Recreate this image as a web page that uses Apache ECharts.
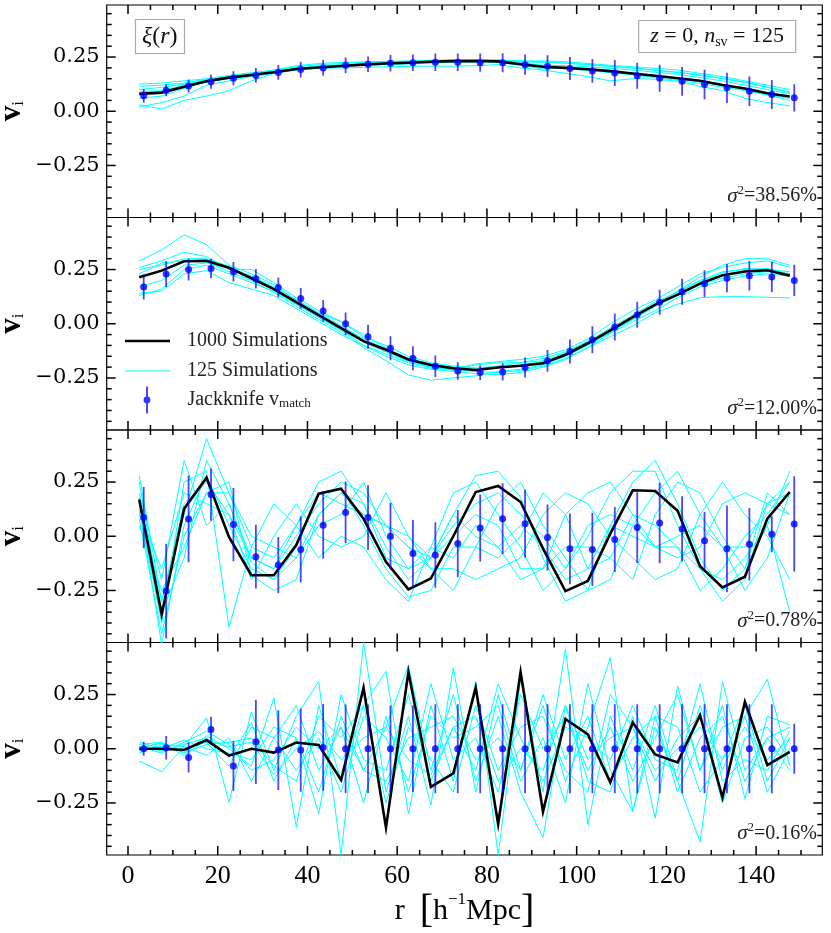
<!DOCTYPE html>
<html><head><meta charset="utf-8">
<script src="https://cdn.jsdelivr.net/npm/echarts@6/dist/echarts.min.js"></script>
<style>html,body{margin:0;padding:0;background:#fff}#c{width:831px;height:933px}</style>
</head><body><div id="c"></div>
<script>
// ---------------- data ----------------
const rLine = [2.5,7.5,12.5,17.5,22.5,27.5,32.5,37.5,42.5,47.5,52.5,57.5,62.5,67.5,72.5,77.5,82.5,87.5,92.5,97.5,102.5,107.5,112.5,117.5,122.5,127.5,132.5,137.5,142.5,147.5];
const rJack = [3.5,8.5,13.5,18.5,23.5,28.5,33.5,38.5,43.5,48.5,53.5,58.5,63.5,68.5,73.5,78.5,83.5,88.5,93.5,98.5,103.5,108.5,113.5,118.5,123.5,128.5,133.5,138.5,143.5,148.5];
const xTickLabels = [0,20,40,60,80,100,120,140];
const xMinorTicks = [5,10,15,25,30,35,45,50,55,65,70,75,85,90,95,105,110,115,125,130,135,145,150];
const yTickLabels = [-0.25,0,0.25];
const yMinorTicks = [-0.45,-0.4,-0.35,-0.3,-0.2,-0.15,-0.1,-0.05,0.05,0.1,0.15,0.2,0.3,0.35,0.4,0.45];
const sigmaLabels = ['38.56%','12.00%','0.78%','0.16%'];

// panel 1 (eigenvector 1)
const black1 = [0.080,0.086,0.113,0.138,0.155,0.167,0.180,0.195,0.202,0.209,0.215,0.220,0.224,0.228,0.231,0.232,0.230,0.217,0.205,0.200,0.194,0.185,0.174,0.164,0.152,0.141,0.121,0.105,0.083,0.068];
const jack1 = [0.071,0.097,0.117,0.136,0.152,0.165,0.179,0.192,0.200,0.212,0.217,0.221,0.224,0.226,0.226,0.224,0.224,0.215,0.208,0.197,0.186,0.176,0.164,0.152,0.138,0.123,0.108,0.092,0.077,0.062];
const err1 = [0.032,0.028,0.030,0.032,0.032,0.034,0.034,0.036,0.036,0.036,0.036,0.038,0.038,0.040,0.040,0.042,0.044,0.047,0.050,0.053,0.055,0.060,0.060,0.062,0.066,0.068,0.070,0.068,0.067,0.063];
const cyan1 = [
 [0.030,0.010,0.050,0.070,0.095,0.140,0.175,0.195,0.205,0.210,0.212,0.215,0.218,0.222,0.225,0.228,0.226,0.212,0.195,0.200,0.195,0.185,0.175,0.162,0.150,0.135,0.120,0.100,0.075,0.050],
 [0.020,0.040,0.070,0.120,0.140,0.160,0.175,0.190,0.198,0.200,0.202,0.205,0.207,0.208,0.208,0.210,0.215,0.200,0.190,0.175,0.160,0.140,0.150,0.148,0.138,0.115,0.095,0.060,0.040,0.025],
 [0.125,0.130,0.140,0.150,0.165,0.178,0.190,0.210,0.220,0.225,0.228,0.230,0.232,0.235,0.238,0.237,0.235,0.232,0.232,0.228,0.220,0.212,0.205,0.198,0.190,0.175,0.160,0.140,0.120,0.100],
 [0.115,0.120,0.130,0.148,0.160,0.175,0.188,0.205,0.215,0.220,0.225,0.228,0.230,0.232,0.233,0.233,0.232,0.228,0.225,0.222,0.215,0.208,0.200,0.190,0.180,0.168,0.152,0.135,0.112,0.090],
 [0.100,0.110,0.125,0.145,0.158,0.170,0.183,0.198,0.205,0.212,0.218,0.222,0.226,0.230,0.232,0.235,0.235,0.225,0.212,0.210,0.205,0.198,0.190,0.180,0.170,0.155,0.140,0.120,0.100,0.080],
 [0.060,0.070,0.105,0.135,0.150,0.163,0.176,0.190,0.200,0.207,0.213,0.218,0.222,0.226,0.228,0.228,0.226,0.218,0.208,0.198,0.188,0.178,0.168,0.155,0.142,0.128,0.112,0.095,0.075,0.060],
 [0.090,0.095,0.120,0.142,0.156,0.168,0.182,0.200,0.210,0.215,0.220,0.224,0.228,0.232,0.236,0.238,0.236,0.232,0.228,0.222,0.215,0.206,0.198,0.188,0.178,0.165,0.150,0.132,0.110,0.085]
];

// panel 2
const black2 = [0.214,0.245,0.288,0.290,0.258,0.210,0.160,0.100,0.040,-0.020,-0.080,-0.120,-0.165,-0.190,-0.205,-0.213,-0.202,-0.194,-0.182,-0.143,-0.090,-0.031,0.031,0.088,0.134,0.185,0.224,0.241,0.247,0.222];
const jack2 = [0.170,0.229,0.250,0.255,0.240,0.207,0.167,0.117,0.059,0.000,-0.060,-0.113,-0.159,-0.196,-0.218,-0.225,-0.222,-0.202,-0.171,-0.128,-0.074,-0.015,0.042,0.099,0.148,0.185,0.210,0.221,0.216,0.200];
const err2 = [0.058,0.060,0.050,0.045,0.045,0.045,0.045,0.048,0.050,0.052,0.055,0.055,0.055,0.050,0.040,0.034,0.040,0.046,0.050,0.055,0.062,0.062,0.060,0.058,0.060,0.062,0.065,0.068,0.070,0.072];
const cyan2 = [
 [0.290,0.340,0.410,0.365,0.270,0.230,0.180,0.110,0.050,-0.010,-0.070,-0.115,-0.160,-0.185,-0.200,-0.205,-0.195,-0.180,-0.160,-0.130,-0.080,-0.030,0.020,0.080,0.150,0.215,0.270,0.300,0.300,0.270],
 [0.260,0.290,0.330,0.310,0.250,0.250,0.190,0.120,0.060,0.010,-0.050,-0.110,-0.170,-0.200,-0.210,-0.185,-0.175,-0.165,-0.150,-0.120,-0.070,0.000,0.060,0.110,0.170,0.230,0.260,0.280,0.290,0.260],
 [0.230,0.280,0.290,0.285,0.240,0.200,0.145,0.080,0.020,-0.040,-0.110,-0.170,-0.236,-0.260,-0.250,-0.240,-0.220,-0.210,-0.190,-0.150,-0.100,-0.040,0.020,0.080,0.130,0.180,0.210,0.230,0.240,0.230],
 [0.140,0.150,0.230,0.245,0.190,0.160,0.130,0.070,0.010,-0.050,-0.100,-0.140,-0.180,-0.200,-0.215,-0.220,-0.225,-0.215,-0.195,-0.160,-0.110,-0.060,-0.010,0.050,0.090,0.120,0.125,0.125,0.122,0.119],
 [0.170,0.200,0.270,0.280,0.255,0.220,0.170,0.110,0.050,0.010,-0.060,-0.100,-0.150,-0.180,-0.195,-0.205,-0.200,-0.190,-0.175,-0.150,-0.095,-0.040,0.020,0.090,0.150,0.200,0.240,0.250,0.255,0.230],
 [0.130,0.160,0.250,0.270,0.230,0.190,0.150,0.090,0.030,-0.030,-0.100,-0.150,-0.190,-0.210,-0.220,-0.230,-0.235,-0.225,-0.200,-0.165,-0.110,-0.045,0.010,0.060,0.120,0.170,0.200,0.220,0.230,0.220],
 [0.250,0.270,0.300,0.300,0.265,0.215,0.165,0.090,0.030,-0.030,-0.085,-0.130,-0.175,-0.205,-0.210,-0.190,-0.180,-0.180,-0.170,-0.135,-0.085,-0.020,0.040,0.100,0.145,0.195,0.235,0.255,0.250,0.240]
];

// panel 3
const black3 = [0.169,-0.360,0.127,0.270,-0.003,-0.180,-0.180,-0.041,0.196,0.219,0.081,-0.118,-0.245,-0.195,0.000,0.204,0.232,0.158,-0.057,-0.253,-0.206,0.012,0.212,0.209,0.117,-0.138,-0.236,-0.187,0.081,0.204];
const jack3 = [0.086,-0.253,0.080,0.192,0.054,-0.094,-0.133,-0.061,0.051,0.110,0.086,0.000,-0.080,-0.087,-0.034,0.038,0.081,0.058,-0.006,-0.058,-0.061,-0.015,0.040,0.061,0.034,-0.021,-0.058,-0.037,0.009,0.057];
const err3 = [0.141,0.218,0.200,0.120,0.169,0.147,0.130,0.152,0.155,0.142,0.149,0.153,0.155,0.151,0.155,0.155,0.163,0.157,0.152,0.163,0.169,0.150,0.163,0.186,0.151,0.133,0.200,0.167,0.083,0.220];
const cyan3 = [
 [0.28,-0.30,0.10,0.45,0.20,-0.05,-0.10,0.05,0.25,0.30,0.15,-0.05,-0.20,-0.10,0.10,0.28,0.30,0.18,-0.10,-0.30,-0.25,0.05,0.25,0.35,0.15,-0.10,-0.25,-0.15,0.05,0.30],
 [0.12,-0.40,0.25,0.30,-0.42,-0.05,0.15,0.05,-0.10,0.00,-0.05,-0.20,-0.30,-0.05,0.20,0.25,0.10,-0.05,-0.25,-0.15,0.00,0.20,0.30,0.30,0.05,-0.15,-0.30,-0.20,0.15,0.10],
 [0.20,-0.20,0.35,0.05,0.15,-0.10,-0.15,0.00,0.15,0.25,0.20,0.05,-0.05,-0.15,-0.25,-0.05,0.15,0.25,0.05,-0.10,-0.25,-0.20,0.05,0.20,0.30,0.10,-0.05,-0.25,-0.10,0.20],
 [0.05,-0.25,-0.05,0.20,0.20,0.00,-0.05,-0.10,0.10,0.20,0.10,0.05,0.00,-0.10,0.05,0.15,0.20,0.10,0.00,-0.15,0.05,0.10,0.05,-0.05,-0.10,-0.05,0.15,0.20,0.15,0.20],
 [0.15,-0.50,0.05,0.28,0.05,-0.15,-0.20,-0.05,0.20,0.22,0.05,-0.15,-0.28,-0.25,-0.05,-0.05,-0.10,0.00,0.20,0.10,-0.15,-0.10,0.10,0.05,-0.05,-0.25,-0.15,0.00,0.10,0.25],
 [0.10,-0.15,0.20,0.15,0.10,-0.20,0.00,0.15,0.00,-0.05,0.00,0.20,0.00,-0.15,-0.15,-0.20,-0.15,-0.10,0.10,0.20,0.15,0.00,-0.10,-0.20,-0.15,0.10,0.25,0.10,0.00,-0.20],
 [0.25,-0.35,-0.10,0.35,0.15,-0.12,-0.20,-0.10,0.05,0.10,0.25,0.00,-0.15,-0.10,0.00,0.10,0.05,-0.15,-0.15,0.10,0.20,0.25,0.10,-0.05,-0.05,-0.15,-0.20,-0.10,0.05,-0.35],
 [0.18,-0.30,0.15,0.25,0.10,-0.10,-0.15,0.05,0.20,0.15,0.10,0.05,-0.05,-0.10,0.10,0.00,-0.05,0.05,-0.05,-0.20,-0.15,0.05,0.00,-0.05,0.00,0.05,-0.05,-0.05,0.15,0.25],
 [0.08,-0.45,0.00,0.20,0.25,-0.18,-0.25,-0.20,0.10,0.20,0.15,-0.10,-0.15,-0.05,-0.10,0.05,-0.05,-0.20,-0.15,-0.05,-0.05,-0.10,-0.20,0.10,0.25,0.20,0.00,-0.15,0.20,0.10]
];

// panel 4
const black4 = [0.000,0.000,-0.006,0.040,-0.032,0.000,-0.018,0.029,0.017,-0.144,0.281,-0.364,0.354,-0.176,-0.114,0.281,-0.347,0.354,-0.290,0.137,0.066,-0.155,0.121,-0.026,-0.063,0.155,-0.225,0.216,-0.075,-0.014];
const jack4 = [0.000,0.005,-0.040,0.089,-0.080,0.032,-0.006,-0.006,0.006,0.000,0.000,0.000,0.000,0.000,0.000,0.000,0.000,0.000,0.000,0.000,0.000,0.000,0.000,0.000,0.000,0.000,0.000,0.000,0.000,0.000];
const err4 = [0.032,0.054,0.069,0.059,0.115,0.194,0.184,0.192,0.200,0.204,0.204,0.200,0.200,0.205,0.205,0.205,0.205,0.205,0.205,0.205,0.205,0.205,0.205,0.205,0.205,0.205,0.205,0.205,0.205,0.115];
const cyan4 = [
 [-0.057,-0.106,0.010,0.143,-0.247,0.170,-0.100,0.150,0.310,-0.490,0.490,-0.200,0.150,-0.260,0.373,-0.200,0.250,-0.100,0.200,-0.150,0.100,0.420,-0.290,0.100,-0.150,0.200,-0.100,0.150,0.320,-0.080],
 [0.020,0.030,-0.020,0.060,0.000,-0.080,0.235,-0.360,0.200,-0.150,0.200,0.357,-0.300,0.200,-0.150,0.310,-0.490,0.320,-0.200,0.460,-0.350,0.150,-0.100,0.200,-0.150,-0.430,0.310,-0.100,0.050,0.100],
 [0.010,-0.010,0.020,0.050,-0.040,0.120,-0.150,0.050,-0.200,0.150,-0.100,0.100,0.385,-0.100,0.250,-0.150,0.150,-0.200,-0.410,0.200,-0.150,-0.200,0.150,-0.320,0.290,-0.100,0.200,-0.230,0.150,0.110],
 [-0.020,0.020,0.010,-0.030,0.050,-0.150,0.050,0.200,-0.100,0.100,-0.250,0.150,-0.200,0.150,0.050,0.100,0.200,-0.150,0.050,-0.250,0.300,-0.100,-0.290,0.150,0.100,-0.200,-0.050,0.200,-0.150,0.050],
 [0.000,0.030,-0.020,0.020,0.030,0.050,-0.080,-0.150,0.150,0.050,0.200,-0.250,0.100,-0.050,-0.200,0.200,-0.100,0.100,0.150,-0.100,-0.200,0.250,0.100,-0.150,0.050,0.150,-0.250,0.050,0.100,-0.050],
 [0.030,0.000,0.040,0.000,-0.020,-0.050,0.100,0.050,-0.300,0.250,-0.050,-0.100,0.250,-0.150,0.100,-0.100,0.300,0.050,-0.150,0.100,0.050,-0.050,0.200,-0.050,-0.100,0.300,-0.150,-0.050,-0.100,0.080],
 [-0.010,0.010,0.000,0.030,-0.080,0.100,0.050,-0.100,0.050,-0.200,0.150,0.050,-0.150,0.300,-0.050,0.050,-0.200,0.250,0.000,0.150,-0.100,0.100,-0.150,0.050,0.250,-0.100,0.100,0.150,-0.200,0.000],
 [0.010,-0.020,0.030,0.080,0.020,-0.100,-0.050,0.100,0.000,0.100,-0.100,-0.150,0.050,0.100,0.150,-0.050,0.050,-0.100,0.250,-0.050,0.150,-0.150,0.050,0.150,-0.200,0.050,0.150,-0.150,0.050,-0.100],
 [0.005,0.025,-0.030,0.040,0.010,0.030,-0.120,0.000,0.080,-0.050,0.050,0.100,-0.050,-0.120,0.100,0.150,-0.150,0.000,-0.100,0.200,-0.050,0.050,0.100,-0.100,0.000,0.100,-0.050,0.100,-0.050,0.050]
];

// ---------------- layout / styles ----------------
const panels = [
  {black: black1, jack: jack1, err: err1, cyan: cyan1},
  {black: black2, jack: jack2, err: err2, cyan: cyan2},
  {black: black3, jack: jack3, err: err3, cyan: cyan3},
  {black: black4, jack: jack4, err: err4, cyan: cyan4}
];
const GRID_TOP = [5, 217.5, 430, 642.5];
const GRID_H = 212.5;
const LEFT = 106.7, RIGHT = 8.7;
const XMIN = -4.75, XMAX = 154.75, YMIN = -0.49, YMAX = 0.49;
const TF = 'Liberation Serif';
const LF = 'DejaVu Serif';
const CYAN = '#00ffff', BLUE = '#0000ff';
const MAJOR_LEN = 9, MINOR_LEN = 5;

// tick table built from the tick arrays: [x, y, kind(0 = x tick, 1 = y tick), length]
const tickTable = [];
xTickLabels.forEach(v => tickTable.push([v, 0, 0, MAJOR_LEN]));
xMinorTicks.forEach(v => tickTable.push([v, 0, 0, MINOR_LEN]));
yTickLabels.forEach(v => tickTable.push([0, v, 1, MAJOR_LEN]));
yMinorTicks.forEach(v => tickTable.push([0, v, 1, MINOR_LEN]));

const grids = [], xAxes = [], yAxes = [], series = [], titles = [];

function fmtY(v) {
  if (Math.abs(v) < 1e-9) return '0.00';
  return (v < 0 ? '\u2212' : '') + Math.abs(v).toFixed(2);
}

// inward ticks on all four sides of a panel, placed through the panel's own scales
function renderTicks(params, api) {
  const cs = params.coordSys;
  const kind = api.value(2), len = api.value(3);
  const pt = api.coord([api.value(0), api.value(1)]);
  const st = {stroke: '#000', lineWidth: 1.5, fill: null};
  if (kind === 0) {
    const x = pt[0], yb = cs.y + cs.height, yt = cs.y;
    return {type: 'group', children: [
      {type: 'line', shape: {x1: x, y1: yb, x2: x, y2: yb - len}, style: st},
      {type: 'line', shape: {x1: x, y1: yt, x2: x, y2: yt + len}, style: st}
    ]};
  }
  const y = pt[1], xl = cs.x, xr = cs.x + cs.width;
  return {type: 'group', children: [
    {type: 'line', shape: {x1: xl, y1: y, x2: xl + len, y2: y}, style: st},
    {type: 'line', shape: {x1: xr, y1: y, x2: xr - len, y2: y}, style: st}
  ]};
}

panels.forEach((P, p) => {
  grids.push({left: LEFT, right: RIGHT, top: GRID_TOP[p], height: GRID_H,
    show: true, borderColor: '#000', borderWidth: 1.2, backgroundColor: 'rgba(0,0,0,0)',
    containLabel: false, outerBoundsMode: 'none'});
  const xa = {
    type: 'value', gridIndex: p, position: 'bottom', min: XMIN, max: XMAX,
    axisLine: {show: false, onZero: false}, splitLine: {show: false}, axisTick: {show: false},
    axisLabel: p === 3 ? {show: true, customValues: xTickLabels, margin: 8, color: '#000',
      fontFamily: TF, fontSize: 26, formatter: v => String(Math.round(v))} : {show: false}
  };
  if (p === 3) {
    xa.name = 'r  {b|[}h{sup|\u22121}Mpc{b|]}';
    xa.nameLocation = 'middle';
    xa.nameGap = 36;
    xa.nameMoveOverlap = false;
    xa.nameTextStyle = {fontFamily: TF, fontSize: 30, color: '#000', lineHeight: 40,
      rich: {b: {fontFamily: TF, fontSize: 40, lineHeight: 40, color: '#000'},
             sup: {fontFamily: TF, fontSize: 17, lineHeight: 30, verticalAlign: 'top', color: '#000'}}};
  }
  xAxes.push(xa);
  yAxes.push({
    type: 'value', gridIndex: p, position: 'left', min: YMIN, max: YMAX,
    axisLine: {show: false, onZero: false}, splitLine: {show: false}, axisTick: {show: false},
    axisLabel: {show: true, customValues: yTickLabels, margin: 7, color: '#000', fontFamily: LF, fontSize: 21, formatter: fmtY},
    name: '{b|v}{s|i}', nameLocation: 'middle', nameGap: 80, nameMoveOverlap: false,
    nameTextStyle: {color: '#000', rich: {
      b: {fontFamily: TF, fontWeight: 'bold', fontSize: 31, lineHeight: 30, color: '#000'},
      s: {fontFamily: TF, fontSize: 17, lineHeight: 22, verticalAlign: 'bottom', color: '#000'}}}
  });

  P.cyan.forEach((arr, k) => {
    series.push({
      type: 'line', name: (p === 1 && k === 0) ? '125 Simulations' : ('cyan_' + p + '_' + k),
      xAxisIndex: p, yAxisIndex: p, data: rLine.map((x, i) => [x, arr[i]]),
      symbol: 'none', color: CYAN, lineStyle: {color: CYAN, width: 1}, silent: true, z: 2, clip: true
    });
  });
  series.push({
    type: 'line', name: p === 1 ? '1000 Simulations' : ('black_' + p),
    xAxisIndex: p, yAxisIndex: p, data: rLine.map((x, i) => [x, P.black[i]]),
    symbol: 'none', color: '#000', lineStyle: {color: '#000', width: 2.6, join: 'miter'}, silent: true, z: 3, clip: true
  });
  series.push({
    type: 'custom', name: 'err_' + p, xAxisIndex: p, yAxisIndex: p, clip: true, silent: true, z: 4,
    data: rJack.map((x, i) => [x, P.jack[i], P.err[i]]),
    encode: {x: 0, y: 1},
    renderItem: (params, api) => {
      const x = api.value(0), y = api.value(1), e = api.value(2);
      const a = api.coord([x, y - e]), b = api.coord([x, y + e]);
      return {type: 'line', shape: {x1: a[0], y1: a[1], x2: b[0], y2: b[1]},
        style: {stroke: 'rgba(0,0,255,0.72)', lineWidth: 1.8}};
    }
  });
  series.push({
    type: 'scatter', name: p === 1 ? 'Jackknife vmatch' : ('jack_' + p),
    xAxisIndex: p, yAxisIndex: p, data: rJack.map((x, i) => [x, P.jack[i]]),
    symbol: 'circle', symbolSize: 7, color: BLUE, itemStyle: {color: BLUE}, silent: true, z: 5, clip: true
  });
  series.push({
    type: 'custom', name: 'ticks_' + p, xAxisIndex: p, yAxisIndex: p, clip: false, silent: true, z: 20,
    data: tickTable, encode: {x: 0, y: 1}, renderItem: renderTicks
  });

  titles.push({
    text: '{i|\u03c3}{sup|2}=' + sigmaLabels[p], right: 14, top: GRID_TOP[p] + 179, padding: 0,
    textStyle: {fontFamily: TF, fontSize: 20, fontWeight: 'normal', color: '#222', lineHeight: 24,
      rich: {i: {fontFamily: TF, fontSize: 21, fontStyle: 'italic', color: '#222', lineHeight: 24},
             sup: {fontFamily: TF, fontSize: 13, verticalAlign: 'top', lineHeight: 16, color: '#222'}}}
  });
});

titles.push({
  text: '{i|\u03be}({i|r})', left: 135, top: 19, padding: [5, 7, 5, 7],
  borderColor: '#aaaaaa', borderWidth: 1.2,
  textStyle: {fontFamily: TF, fontSize: 24, fontWeight: 'normal', color: '#111', lineHeight: 25,
    rich: {i: {fontFamily: TF, fontSize: 24, fontStyle: 'italic', color: '#111', lineHeight: 25}}}
});
titles.push({
  text: '{i|z} = 0, {i|n}{s|sv} = 125', right: 35, top: 20, padding: [4, 12, 4, 12],
  borderColor: '#aaaaaa', borderWidth: 1.2,
  textStyle: {fontFamily: TF, fontSize: 22, fontWeight: 'normal', color: '#111', lineHeight: 25,
    rich: {i: {fontFamily: TF, fontSize: 22, fontStyle: 'italic', color: '#111', lineHeight: 25},
           s: {fontFamily: TF, fontSize: 14, verticalAlign: 'bottom', lineHeight: 17, color: '#111'}}}
});

const legText = {fontFamily: TF, fontSize: 20, color: '#222', lineHeight: 20};
const option = {
  animation: false,
  backgroundColor: '#fff',
  grid: grids, xAxis: xAxes, yAxis: yAxes, series: series, title: titles,
  legend: [
    {data: ['1000 Simulations'], left: 125, top: 331, padding: 0, icon: 'rect', itemWidth: 45, itemHeight: 2.6,
      itemStyle: {borderWidth: 0}, selectedMode: false, textStyle: Object.assign({padding: [0, 0, 0, 12]}, legText)},
    {data: ['125 Simulations'], left: 125, top: 361, padding: 0, icon: 'rect', itemWidth: 45, itemHeight: 1.2,
      itemStyle: {borderWidth: 0}, selectedMode: false, textStyle: Object.assign({padding: [0, 0, 0, 12]}, legText)},
    {data: ['Jackknife vmatch'], left: 143.6, top: 386.5, padding: 0,
      icon: 'path://M-0.9,-13.5L0.9,-13.5L0.9,13.5L-0.9,13.5Z M3.4,0A3.4,3.4,0,1,1,-3.4,0A3.4,3.4,0,1,1,3.4,0Z',
      itemWidth: 6.8, itemHeight: 27, itemStyle: {borderWidth: 0}, selectedMode: false,
      formatter: () => 'Jackknife v{sub|match}',
      textStyle: Object.assign({padding: [0, 0, 0, 32], rich: {sub: {fontFamily: TF, fontSize: 13, verticalAlign: 'bottom', lineHeight: 16, color: '#222'}}}, legText)}
  ]
};
const chart = echarts.init(document.getElementById('c'));
chart.setOption(option);
</script>
</body></html>
